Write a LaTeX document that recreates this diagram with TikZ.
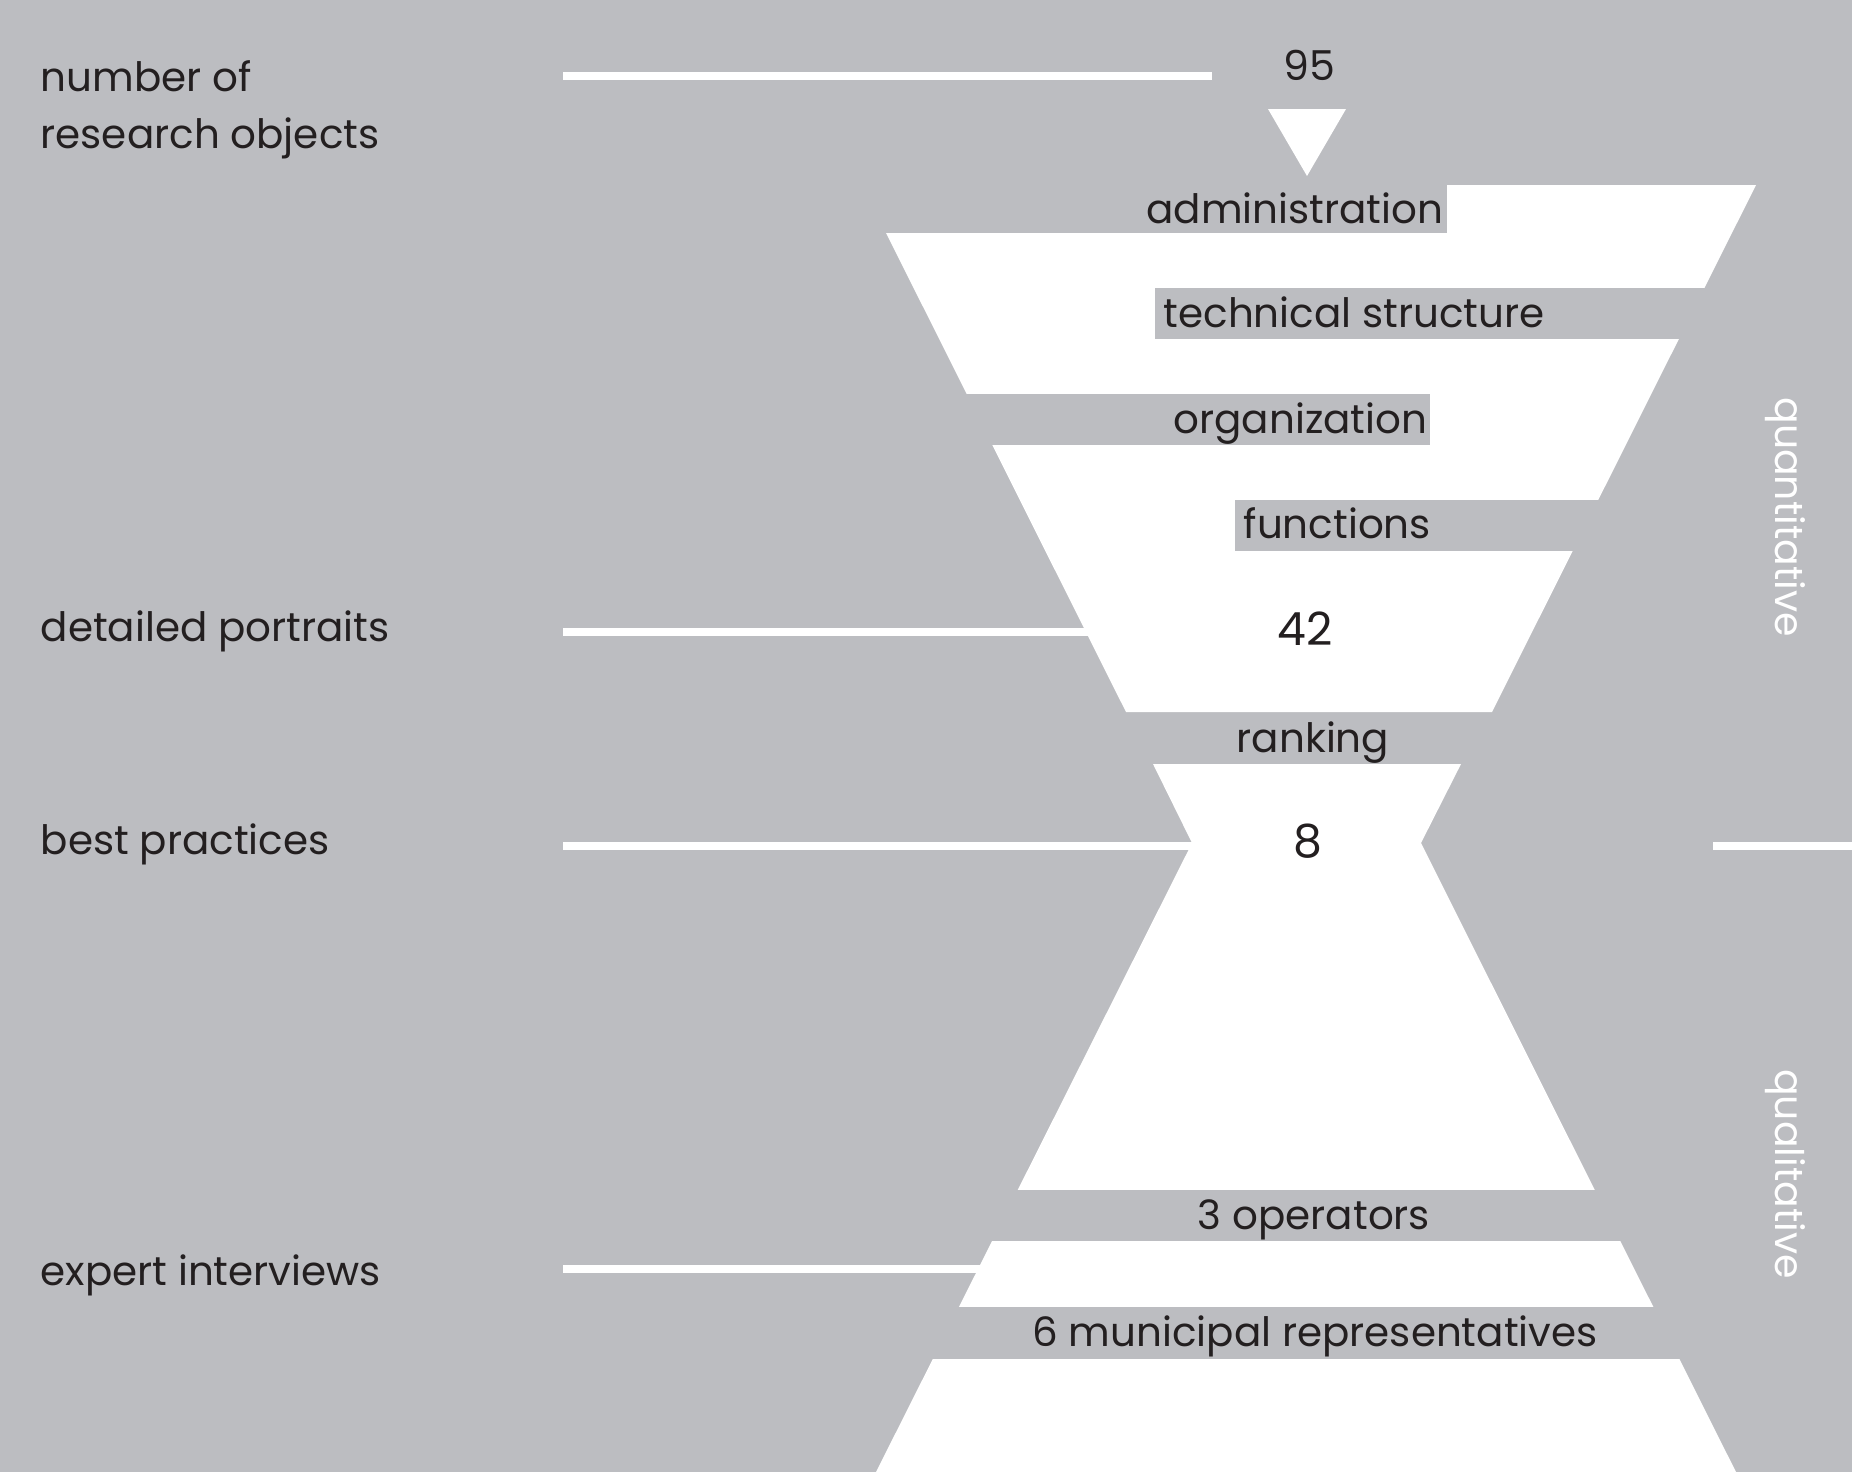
\documentclass[tikz,border=0pt]{standalone}
\usepackage{fontspec}
\setmainfont{Poppins}
\usetikzlibrary{calc}

\definecolor{bggray}{RGB}{188,189,193}
\definecolor{ink}{RGB}{35,31,32}

\begin{document}
\begin{tikzpicture}[x=0.01cm, y=-0.01cm,
    txt/.style={font=\fontsize{11.5}{16.2}\selectfont, text=ink, inner sep=0pt},
    side/.style={txt, align=left, anchor=base west},
    num/.style={font=\fontsize{13}{15}\selectfont, text=ink, inner sep=0pt, anchor=base},
    phase/.style={font=\fontsize{11.2}{14}\selectfont, text=white, rotate=-90,
                  anchor=base, inner sep=0pt},
    guide/.style={draw=white, line width=2.3pt},
    funnel/.style={fill=white},
    cut/.style={fill=bggray},
]
    \fill[bggray] (0,0) rectangle (1852,1472);
    \useasboundingbox (0,0) rectangle (1852,1472);

    % --- left column ---
    \node[side] (lblObj)  at (40,148)  {number of\\research objects};
    \node[side] (lblPort) at (40,641)  {detailed portraits};
    \node[side] (lblBest) at (40,854)  {best practices};
    \node[side] (lblExp)  at (40,1285) {expert interviews};

    % --- guide lines ---
    \coordinate (g1a) at (563,76);   \coordinate (g1b) at (1212,76);
    \coordinate (g2a) at (563,632);  \coordinate (g2b) at (1095,632);
    \coordinate (g3a) at (563,846);  \coordinate (g3b) at (1200,846);
    \coordinate (g4a) at (563,1269); \coordinate (g4b) at (985,1269);
    \coordinate (g5a) at (1713,846); \coordinate (g5b) at (1852,846);
    \foreach \a/\b in {g1a/g1b, g2a/g2b, g3a/g3b, g4a/g4b, g5a/g5b}
        \draw[guide] (\a) -- (\b);

    % --- funnel ---
    \fill[funnel] (1268,109) -- (1346,109) -- (1307,176) -- cycle;
    \fill[funnel] (862,185) -- (1756,185) -- (1492,712) -- (1126,712) -- cycle;
    \fill[funnel] (1153,764) -- (1461,764) -- (1421,843) -- (1736,1472)
        -- (876,1472) -- (1192,843) -- cycle;

    % --- label cut-outs ---
    \coordinate (cAdmin) at (1444,223);
    \coordinate (cTech)  at (1163,327);
    \coordinate (cOrg)   at (1428,433);
    \coordinate (cFunc)  at (1243,538);
    \fill[cut] (840,185) rectangle ($(cAdmin)+(3,10)$);
    \fill[cut] ($(cTech)+(-8,-39)$) rectangle (1740,339);
    \fill[cut] (840,394) rectangle ($(cOrg)+(2,12)$);
    \fill[cut] ($(cFunc)+(-8,-38)$) rectangle (1700,551);
    \fill[cut] (850,1190) rectangle (1760,1241);
    \fill[cut] (850,1307) rectangle (1760,1359);

    \node[txt, anchor=base east] (tAdmin) at (cAdmin) {administration};
    \node[txt, anchor=base west] (tTech)  at (cTech)  {technical structure};
    \node[txt, anchor=base east] (tOrg)   at (cOrg)   {organization};
    \node[txt, anchor=base west] (tFunc)  at (cFunc)  {functions};
    \node[txt, anchor=base] (tRank) at (1313,752)  {ranking};
    \node[txt, anchor=base] (tOps)  at (1314,1229) {3 operators};
    \node[txt, anchor=base] (tMun)  at (1315,1346) {6 municipal representatives};

    % --- counts ---
    \node[num, font=\fontsize{11.7}{14}\selectfont] (n95) at (1309,80) {95};
    \node[num] (n42) at (1305,645) {42};
    \node[num] (n8)  at (1308,857) {8};

    % --- phases ---
    \node[phase] (qQuant) at (1775,517) {quantitative};
    \node[phase] (qQual)  at (1775,1174) {qualitative};
\end{tikzpicture}
\end{document}
